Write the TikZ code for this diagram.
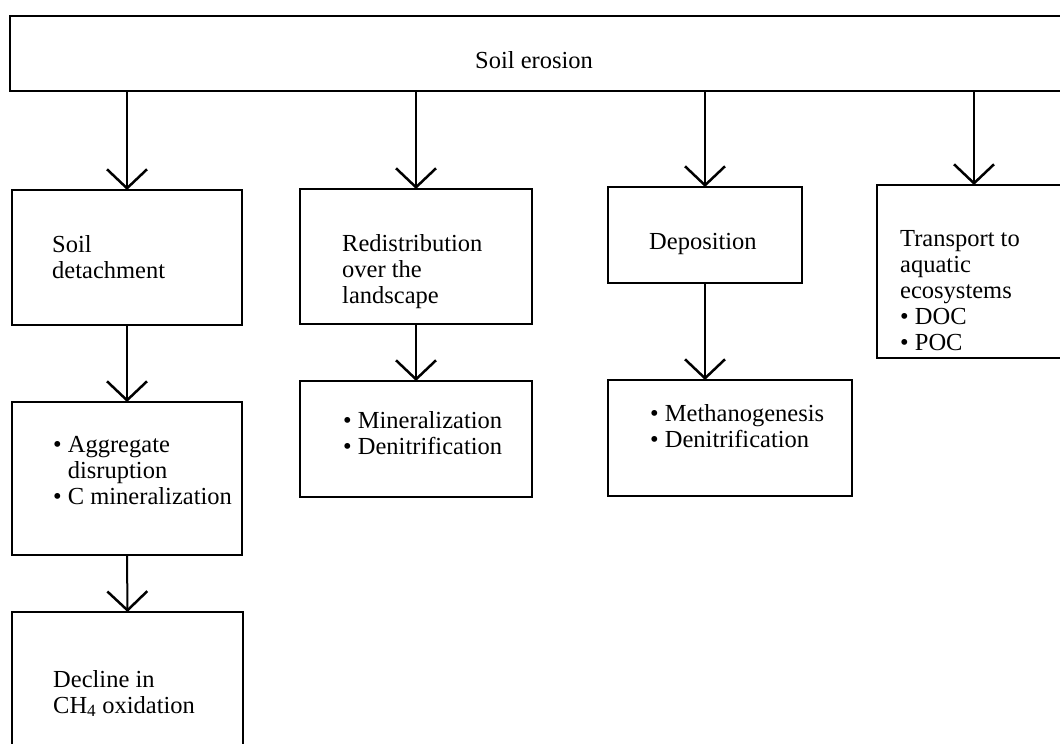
\documentclass[tikz,border=0pt]{standalone}
\usepackage{fontspec}
\setmainfont{Liberation Serif}
\usetikzlibrary{arrows.meta}
\newcommand{\lines}[1]{\begin{tabular}[t]{@{}l@{}}#1\end{tabular}}
\newcommand{\hang}{\hspace*{0.6em}}
\begin{document}
\begin{tikzpicture}[x=1pt,y=-1pt,
  box/.style={draw, line width=2.5pt, inner sep=0pt, outer sep=0pt, anchor=north west},
  lbl/.style={anchor=base west, inner sep=0pt, font=\fontsize{24.5}{26}\selectfont},
  flow/.style={line width=2pt, -{Straight Barb[length=19pt,width=40pt,line width=2.5pt]}}]
\useasboundingbox (0,0) rectangle (1060,744);
\clip (0,0) rectangle (1060,744);

% boxes
\node[box, minimum width=1065pt, minimum height=75pt]  (top) at (10,16)  {};
\node[box, minimum width=230pt,  minimum height=135pt] (det) at (12,190) {};
\node[box, minimum width=230pt,  minimum height=153pt] (agg) at (12,402) {};
\node[box, minimum width=231pt,  minimum height=150pt] (dec) at (12,612) {};
\node[box, minimum width=232pt,  minimum height=135pt] (red) at (300,189) {};
\node[box, minimum width=232pt,  minimum height=116pt] (mnr) at (300,381) {};
\node[box, minimum width=194pt,  minimum height=96pt]  (dep) at (608,187) {};
\node[box, minimum width=244pt,  minimum height=116pt] (met) at (608,380) {};
\node[box, minimum width=194pt,  minimum height=173pt] (tra) at (877,185) {};

% texts
\node[lbl] (t-top) at (475,68)  {Soil erosion};
\node[lbl] (t-det) at (52,252)  {\lines{Soil\\detachment}};
\node[lbl] (t-agg) at (53,452)  {\lines{• Aggregate\\\hang disruption\\• C mineralization}};
\node[lbl] (t-dec) at (53,687)  {\lines{Decline in\\CH\textsubscript{4} oxidation}};
\node[lbl] (t-red) at (342,251) {\lines{Redistribution\\over the\\landscape}};
\node[lbl] (t-mnr) at (343,428) {\lines{• Mineralization\\• Denitrification}};
\node[lbl] (t-dep) at (649,249) {Deposition};
\node[lbl] (t-met) at (650,421) {\lines{• Methanogenesis\\• Denitrification}};
\node[lbl] (t-tra) at (900,246) {\lines{Transport to\\aquatic\\ecosystems\\• DOC\\• POC}};

% connectors
\draw[flow] (top.south -| det.north) -- (det.north);
\draw[flow] (top.south -| red.north) -- (red.north);
\draw[flow] (top.south -| dep.north) -- (dep.north);
\draw[flow] (top.south -| tra.north) -- (tra.north);
\draw[flow] (det.south) -- (agg.north);
\draw[flow] (agg.south) -- (dec.north);
\draw[flow] (red.south) -- (mnr.north);
\draw[flow] (dep.south) -- (dep.south |- met.north);
\end{tikzpicture}
\end{document}
